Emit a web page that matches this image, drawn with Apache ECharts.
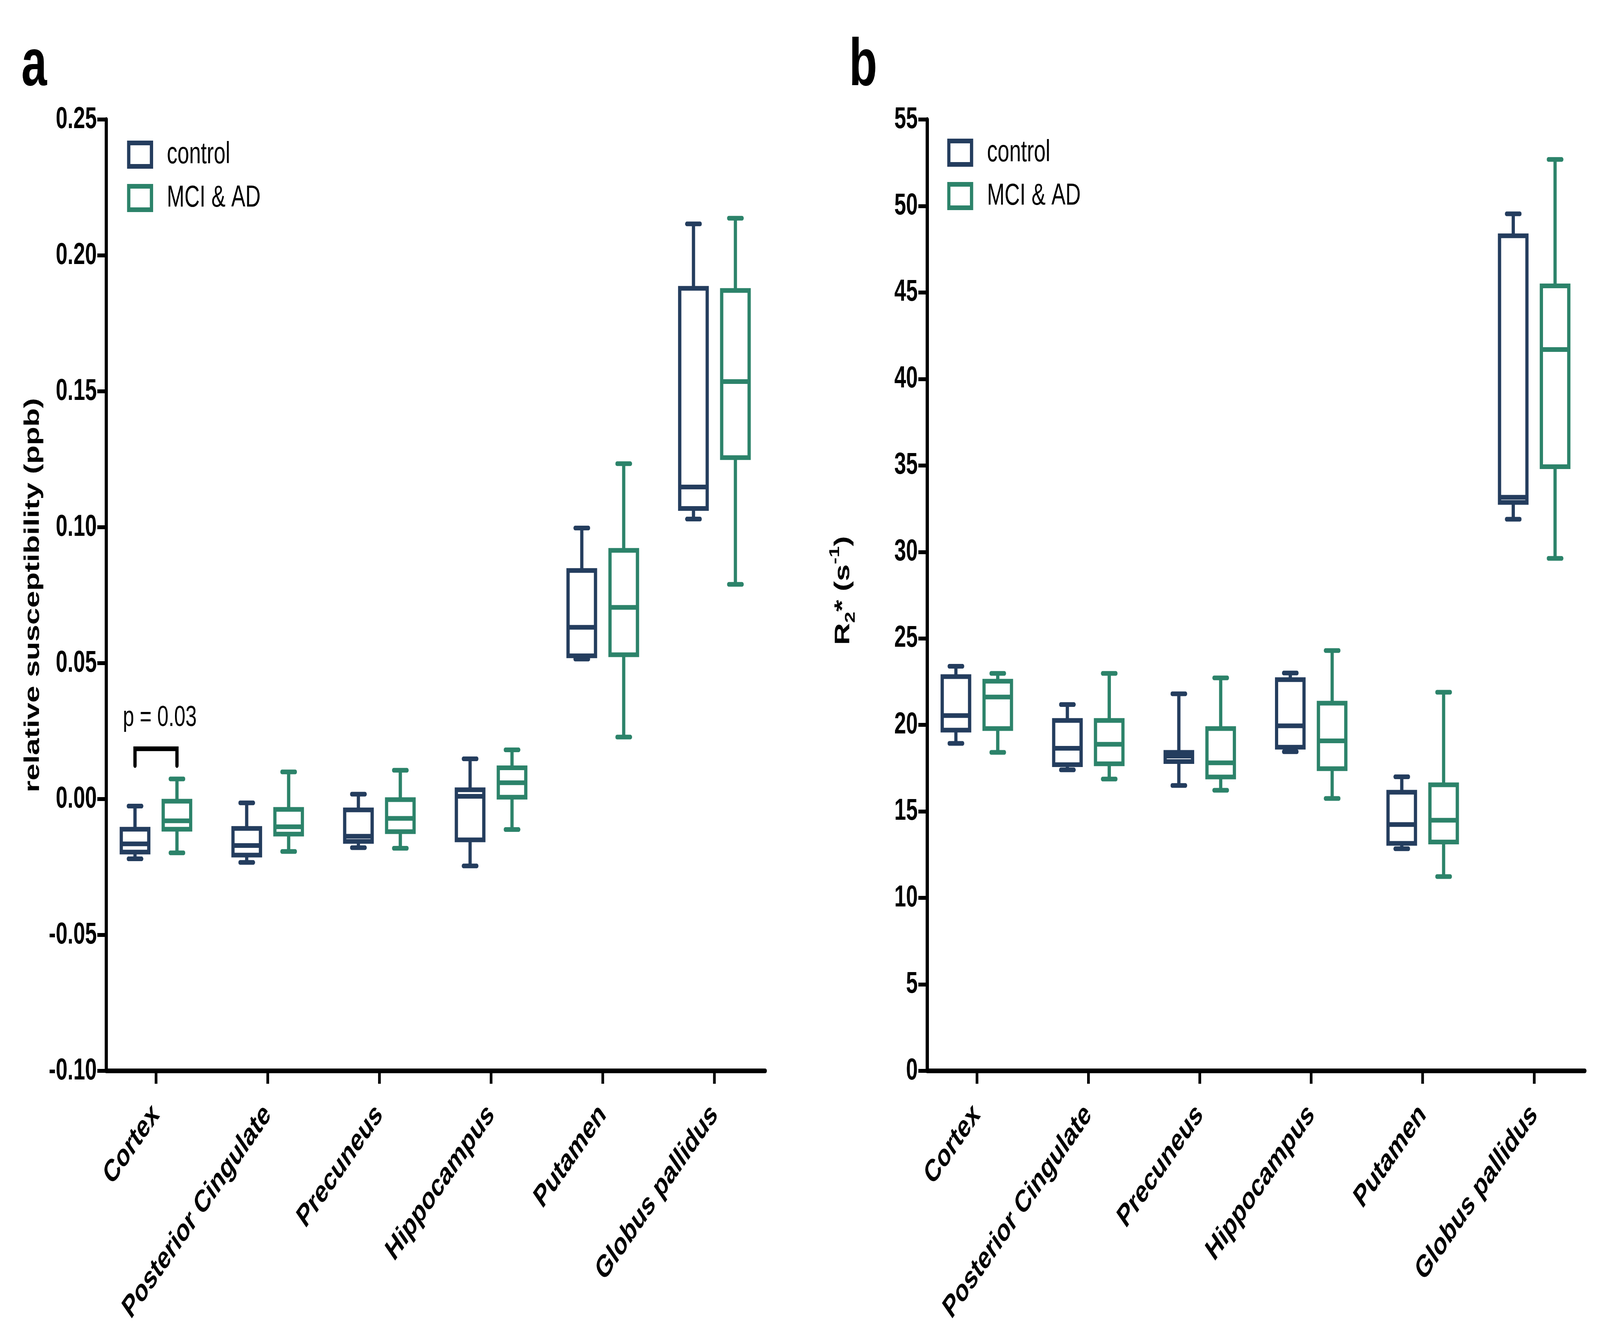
<!DOCTYPE html>
<html>
<head>
<meta charset="utf-8">
<script src="https://cdn.jsdelivr.net/npm/echarts@6/dist/echarts.min.js"></script>
<style>
html,body{margin:0;padding:0;background:#fff;overflow:hidden;}
#wrap{position:relative;overflow:hidden;width:5917px;height:3426px;}
#c{position:absolute;left:0;top:0;width:5917px;height:3426px;transform-origin:0 0;}
</style>
</head>
<body>
<div id="wrap"><div id="c"></div></div>
<script>
// ---------------- DATA ----------------
const categories = ['Cortex', 'Posterior Cingulate', 'Precuneus', 'Hippocampus', 'Putamen', 'Globus pallidus'];
const groupNames = ['control', 'MCI & AD'];

// each row: [min, Q1, median, Q3, max]
const suscControl = [
  [-0.0220, -0.0195, -0.0165, -0.0111, -0.0026],
  [-0.0233, -0.0206, -0.0171, -0.0108, -0.0014],
  [-0.0179, -0.0156, -0.0137, -0.0040,  0.0018],
  [-0.0246, -0.0150,  0.0010,  0.0034,  0.0148],
  [ 0.0515,  0.0527,  0.0632,  0.0841,  0.0997],
  [ 0.1030,  0.1069,  0.1148,  0.1879,  0.2116]
];
const suscMCI = [
  [-0.0198, -0.0111, -0.0080, -0.0008,  0.0074],
  [-0.0193, -0.0129, -0.0102, -0.0038,  0.0100],
  [-0.0181, -0.0120, -0.0071, -0.0002,  0.0106],
  [-0.0112,  0.0007,  0.0060,  0.0115,  0.0181],
  [ 0.0228,  0.0531,  0.0705,  0.0915,  0.1234],
  [ 0.0790,  0.1256,  0.1536,  0.1871,  0.2137]
];
const r2Control = [
  [18.93, 19.70, 20.54, 22.79, 23.39],
  [17.40, 17.70, 18.65, 20.26, 21.18],
  [16.50, 17.88, 18.20, 18.41, 21.80],
  [18.45, 18.71, 19.95, 22.62, 23.00],
  [12.84, 13.15, 14.24, 16.11, 17.00],
  [31.89, 32.86, 33.16, 48.28, 49.55]
];
const r2MCI = [
  [18.41, 19.79, 21.61, 22.53, 22.98],
  [16.87, 17.75, 18.88, 20.26, 22.98],
  [16.22, 16.99, 17.81, 19.79, 22.72],
  [15.75, 17.47, 19.08, 21.26, 24.30],
  [11.23, 13.23, 14.49, 16.54, 21.89],
  [29.63, 34.93, 41.70, 45.38, 52.69]
];
// significance annotation (panel a)
const sigCategory = 'Cortex';
const sigLabel = 'p = 0.03';
const sigLevel = 0.0185;

// axis ranges
const suscAxis = { min: -0.10, max: 0.25, interval: 0.05 };
const r2Axis = { min: 0, max: 55, interval: 5 };
const yTitleA = 'relative susceptibility (ppb)';
const panelLetters = ['a', 'b'];

// ---------------- STYLE ----------------
const W = 5917, H = 3426;
const FONT = '"Liberation Sans", Arial, Helvetica, sans-serif';
const C_CTRL = '#243D5E';
const C_MCI = '#2C836A';
const LW = 12;
const BOX_OFFSET = 0.1877, BOX_HALF = 0.123, CAP_HALF = 0.06;
const X_MIN = 0.555, X_MAX = 6.455;
const catPos = categories.map((_, i) => i + 1);

// map the 5917x3426 drawing onto the real viewport (which may be narrower)
const wrap = document.getElementById('wrap');
const el = document.getElementById('c');
let sx = window.innerWidth / W, sy = window.innerHeight / H;
if (!(sx > 0)) sx = 1;
if (!(sy > 0)) sy = 1;
wrap.style.width = (W * sx) + 'px';
wrap.style.height = (H * sy) + 'px';
if (Math.abs(sx - 1) > 1e-4 || Math.abs(sy - 1) > 1e-4) el.style.transform = 'scale(' + sx + ',' + sy + ')';

function toRows(arr) { return arr.map((r, i) => [i + 1].concat(r)); }

function boxRenderer(side, color) {
  return function (params, api) {
    const x = api.value(0);
    const unit = api.size([1, 0])[0];
    const cx = api.coord([x, api.value(3)])[0] + side * BOX_OFFSET * unit;
    const y = [1, 2, 3, 4, 5].map(i => api.coord([x, api.value(i)])[1]);
    const hw = BOX_HALF * unit, cw = CAP_HALF * unit;
    const line = { stroke: color, lineWidth: LW, lineCap: 'butt' };
    const cap = { stroke: color, lineWidth: LW, lineCap: 'round' };
    return {
      type: 'group',
      children: [
        { type: 'line', shape: { x1: cx, y1: y[4], x2: cx, y2: y[3] }, style: line },
        { type: 'line', shape: { x1: cx, y1: y[1], x2: cx, y2: y[0] }, style: line },
        { type: 'line', shape: { x1: cx - cw, y1: y[4], x2: cx + cw, y2: y[4] }, style: cap },
        { type: 'line', shape: { x1: cx - cw, y1: y[0], x2: cx + cw, y2: y[0] }, style: cap },
        { type: 'rect', shape: { x: cx - hw, y: y[3], width: 2 * hw, height: y[1] - y[3] },
          style: { fill: '#fff', stroke: color, lineWidth: LW, lineJoin: 'miter' } },
        { type: 'line', shape: { x1: cx - hw, y1: y[2], x2: cx + hw, y2: y[2] }, style: line }
      ]
    };
  };
}

function sigRenderer(params, api) {
  const unit = api.size([1, 0])[0];
  const p = api.coord([api.value(0), api.value(1)]);
  const xl = p[0] - BOX_OFFSET * unit, xr = p[0] + BOX_OFFSET * unit;
  return {
    type: 'group',
    children: [
      { type: 'polyline', shape: { points: [[xl, p[1] + 43], [xl, p[1]], [xr, p[1]], [xr, p[1] + 43]] },
        style: { stroke: '#000', lineWidth: LW, fill: null, lineCap: 'round', lineJoin: 'miter' } },
      { type: 'text', style: { text: sigLabel, x: (xl + xr) / 2 + 14, y: p[1] - 79,
        align: 'center', verticalAlign: 'middle', font: '75px ' + FONT, fill: '#000' } }
    ]
  };
}

const axisLineStyle = { color: '#000', width: LW };
const tickStyle = { color: '#000', width: 10 };

function makeX(gridIndex) {
  return {
    type: 'value', gridIndex: gridIndex, min: X_MIN, max: X_MAX,
    splitLine: { show: false },
    axisLine: { show: true, onZero: false, lineStyle: axisLineStyle },
    axisTick: { show: true, customValues: catPos, length: 33, lineStyle: tickStyle },
    axisLabel: {
      show: true, customValues: catPos, rotate: 45, margin: 100,
      formatter: v => categories[Math.round(v) - 1] || '',
      fontSize: 80, fontWeight: 'bold', fontFamily: FONT, color: '#000'
    }
  };
}

function makeY(gridIndex, range, fmt, extra) {
  return Object.assign({
    type: 'value', gridIndex: gridIndex, min: range.min, max: range.max, interval: range.interval,
    splitLine: { show: false },
    axisLine: { show: true, onZero: false, lineStyle: axisLineStyle },
    axisTick: { show: true, length: 33, lineStyle: tickStyle },
    axisLabel: { formatter: fmt, margin: 35, fontSize: 78, fontWeight: 'bold', fontFamily: FONT, color: '#000' },
    nameLocation: 'middle', nameRotate: 90
  }, extra);
}

const legendData = [
  { name: groupNames[0], icon: 'rect', itemStyle: { color: '#fff', borderColor: C_CTRL, borderWidth: LW } },
  { name: groupNames[1], icon: 'rect', itemStyle: { color: '#fff', borderColor: C_MCI, borderWidth: LW } }
];
function makeLegend(left, top) {
  return {
    left: left, top: top, orient: 'vertical', padding: 0,
    itemWidth: 84, itemHeight: 60, itemGap: 33, selectedMode: false,
    data: legendData,
    textStyle: { fontSize: 78, fontFamily: FONT, color: '#000', lineHeight: 72, padding: [0, 0, 0, 52] }
  };
}

const chart = echarts.init(el, null, { renderer: 'canvas', width: W, height: H });
chart.setOption({
  backgroundColor: '#fff',
  animation: false,
  textStyle: { fontFamily: FONT },
  grid: [
    { left: 393, right: W - 2830, top: 306, bottom: H - 2742, outerBoundsMode: 'none', containLabel: false },
    { left: 3429, right: W - 5861, top: 306, bottom: H - 2742, outerBoundsMode: 'none', containLabel: false }
  ],
  legend: [makeLegend(470, 357), makeLegend(3503, 352)],
  xAxis: [makeX(0), makeX(1)],
  yAxis: [
    makeY(0, suscAxis, v => (Math.abs(v) < 1e-9 ? 0 : v).toFixed(2), {
      name: yTitleA, nameGap: 232,
      nameTextStyle: { fontSize: 78, fontWeight: 'bold', fontFamily: FONT, color: '#000' }
    }),
    makeY(1, r2Axis, v => String(Math.round(v)), {
      name: '{m|R}{sub|2}{m|* (s}{sup|-1}{m|)}', nameGap: 256,
      nameTextStyle: {
        fontSize: 78, fontWeight: 'bold', fontFamily: FONT, color: '#000', padding: [0, 0, 0, 24],
        rich: {
          m: { fontSize: 78, fontWeight: 'bold', fontFamily: FONT, color: '#000', lineHeight: 110, verticalAlign: 'middle' },
          sub: { fontSize: 52, fontWeight: 'bold', fontFamily: FONT, color: '#000', lineHeight: 60, verticalAlign: 'bottom' },
          sup: { fontSize: 52, fontWeight: 'bold', fontFamily: FONT, color: '#000', lineHeight: 60, verticalAlign: 'top' }
        }
      }
    })
  ],
  graphic: [
    { type: 'text', x: 79, y: 171, style: { text: panelLetters[0], font: 'bold 170px ' + FONT, fill: '#000', align: 'left', verticalAlign: 'middle' } },
    { type: 'text', x: 3140, y: 171, style: { text: panelLetters[1], font: 'bold 170px ' + FONT, fill: '#000', align: 'left', verticalAlign: 'middle' } }
  ],
  series: [
    { type: 'custom', name: groupNames[0], xAxisIndex: 0, yAxisIndex: 0, data: toRows(suscControl),
      renderItem: boxRenderer(-1, C_CTRL), silent: true, encode: { x: 0, y: [1, 2, 3, 4, 5] } },
    { type: 'custom', name: groupNames[1], xAxisIndex: 0, yAxisIndex: 0, data: toRows(suscMCI),
      renderItem: boxRenderer(1, C_MCI), silent: true, encode: { x: 0, y: [1, 2, 3, 4, 5] } },
    { type: 'custom', name: groupNames[0], xAxisIndex: 1, yAxisIndex: 1, data: toRows(r2Control),
      renderItem: boxRenderer(-1, C_CTRL), silent: true, encode: { x: 0, y: [1, 2, 3, 4, 5] } },
    { type: 'custom', name: groupNames[1], xAxisIndex: 1, yAxisIndex: 1, data: toRows(r2MCI),
      renderItem: boxRenderer(1, C_MCI), silent: true, encode: { x: 0, y: [1, 2, 3, 4, 5] } },
    { type: 'custom', name: 'significance', xAxisIndex: 0, yAxisIndex: 0,
      data: [[categories.indexOf(sigCategory) + 1, sigLevel]],
      renderItem: sigRenderer, silent: true, encode: { x: 0, y: 1 } }
  ]
});
</script>
</body>
</html>
